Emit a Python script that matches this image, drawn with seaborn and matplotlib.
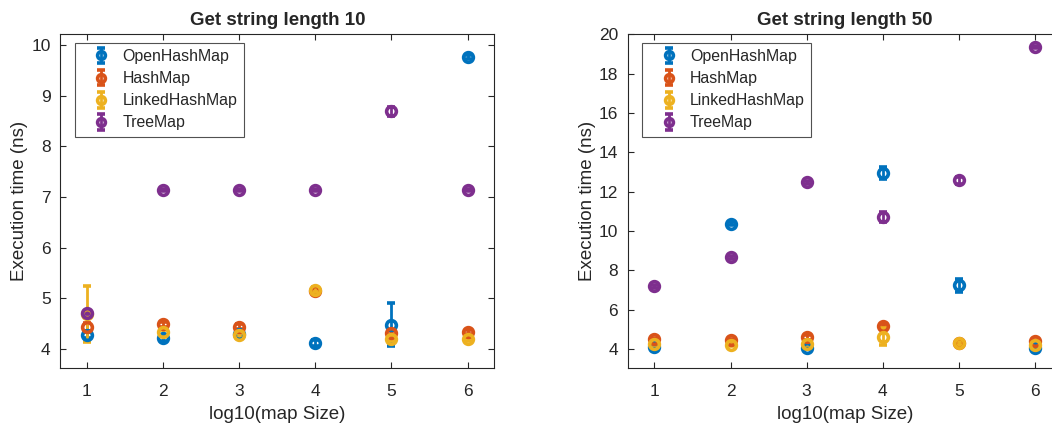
import numpy as np
import seaborn as sns
import matplotlib
matplotlib.use('Agg')
import matplotlib.pyplot as plt

# x positions: log10 of map size
map_sizes = [1, 2, 3, 4, 5, 6]
map_names = ['OpenHashMap', 'HashMap', 'LinkedHashMap', 'TreeMap']

# string length 10: mean and error per map type
len10_open = [4.28, 4.21, 4.30, 4.11, 4.48, 9.77]
len10_open_err = [0.06, 0.05, 0.04, 0.06, 0.43, 0.04]
len10_hash = [4.44, 4.49, 4.44, 5.15, 4.31, 4.33]
len10_hash_err = [0.08, 0.05, 0.05, 0.04, 0.04, 0.04]
len10_linked = [4.69, 4.33, 4.28, 5.17, 4.19, 4.19]
len10_linked_err = [0.55, 0.05, 0.04, 0.05, 0.04, 0.03]
len10_tree = [4.72, 7.13, 7.13, 7.14, 8.69, 7.13]
len10_tree_err = [0.03, 0.02, 0.02, 0.02, 0.09, 0.02]

# string length 50
len50_open = [4.12, 10.38, 4.05, 12.96, 7.23, 4.05]
len50_open_err = [0.05, 0.08, 0.06, 0.30, 0.34, 0.05]
len50_hash = [4.51, 4.46, 4.59, 5.19, 4.30, 4.42]
len50_hash_err = [0.05, 0.05, 0.12, 0.06, 0.05, 0.05]
len50_linked = [4.26, 4.22, 4.26, 4.63, 4.31, 4.22]
len50_linked_err = [0.05, 0.05, 0.05, 0.45, 0.10, 0.05]
len50_tree = [7.18, 8.67, 12.47, 10.71, 12.57, 19.34]
len50_tree_err = [0.07, 0.08, 0.06, 0.25, 0.20, 0.05]

sns.set_style('white')
plt.rcParams['font.family'] = ['Liberation Sans', 'DejaVu Sans']

# matlab default line colors
palette = sns.color_palette(['#0072BD', '#D95319', '#EDB120', '#7E2F8E'])
axis_color = '#262626'

fig = plt.figure(figsize=(10.52, 4.28), dpi=100)
ax_left = fig.add_axes([0.0573, 0.1395, 0.4125, 0.7804])
ax_right = fig.add_axes([0.5967, 0.1395, 0.4125, 0.7804])


def draw_panel(ax, means, errs, title, ylim, yticks):
    for name, m, e, c in zip(map_names, means, errs, palette):
        ax.errorbar(map_sizes, m, yerr=e, fmt='o', color=c, mfc='none',
                    ms=7, mew=2.6, elinewidth=2, capsize=3, capthick=2,
                    label=name)
    ax.set_xlim(0.65, 6.35)
    ax.set_ylim(*ylim)
    ax.set_xticks(map_sizes)
    ax.set_yticks(yticks)
    ax.set_title(title, fontsize=13.5, fontweight='bold', pad=7)
    ax.set_xlabel('log10(map Size)', fontsize=13.5, color=axis_color, labelpad=5)
    ax.set_ylabel('Execution time (ns)', fontsize=13.5, color=axis_color, labelpad=2)
    ax.tick_params(direction='in', length=4, width=0.8, top=True, right=True,
                   bottom=True, left=True,
                   labelsize=12.5, colors=axis_color, pad=7)
    ax.tick_params(axis='x', pad=11)
    for s in ax.spines.values():
        s.set_color(axis_color)
        s.set_linewidth(0.8)
    leg = ax.legend(loc='upper left', bbox_to_anchor=(0.034, 0.975), fontsize=11.4,
                    frameon=True, fancybox=False, edgecolor=axis_color,
                    borderpad=0.4, labelspacing=0.45, handletextpad=0.1,
                    handlelength=2.5, borderaxespad=0, markerscale=0.8)
    leg.get_frame().set_linewidth(0.8)


draw_panel(ax_left,
           [len10_open, len10_hash, len10_linked, len10_tree],
           [len10_open_err, len10_hash_err, len10_linked_err, len10_tree_err],
           'Get string length 10', (3.62, 10.21), range(4, 11))
draw_panel(ax_right,
           [len50_open, len50_hash, len50_linked, len50_tree],
           [len50_open_err, len50_hash_err, len50_linked_err, len50_tree_err],
           'Get string length 50', (3.02, 20), range(4, 21, 2))

fig.savefig('out.png', dpi=100)
